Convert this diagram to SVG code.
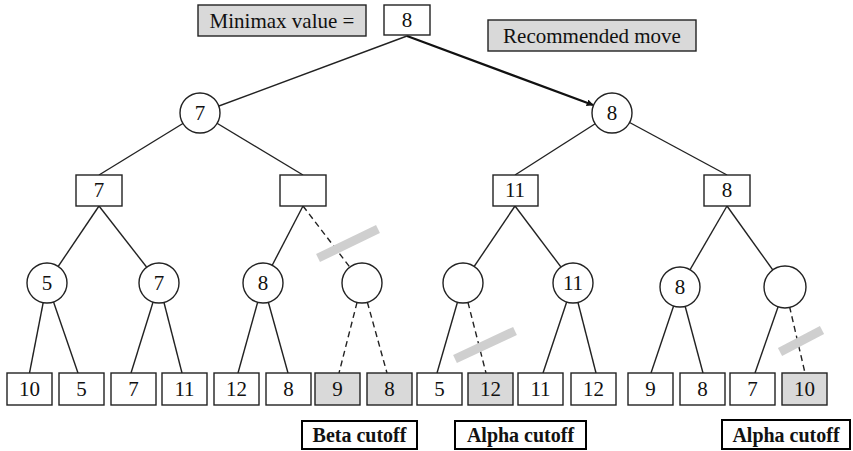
<svg xmlns="http://www.w3.org/2000/svg" width="853" height="451" viewBox="0 0 853 451">
<style>
.e{stroke:#222;stroke-width:1.4;fill:none}
.d{stroke:#222;stroke-width:1.4;fill:none;stroke-dasharray:6 4}
.bar{stroke:#cfcfcf;stroke-width:9}
.n{fill:#fff;stroke:#222;stroke-width:1.4}
.g{fill:#d9d9d9;stroke:#222;stroke-width:1.4}
.lb{fill:#fff;stroke:#000;stroke-width:2}
text{font-family:"Liberation Serif","Times New Roman",serif;font-size:21px;fill:#111;text-anchor:middle;dominant-baseline:central}
.b{font-weight:bold;font-size:20px}
</style>
<defs>
<marker id="arr" viewBox="0 0 10 10" refX="9" refY="5" markerWidth="7" markerHeight="7" orient="auto" markerUnits="userSpaceOnUse">
<path d="M0,0 L10,5 L0,10 z" fill="#111"/>
</marker>
</defs>
<g id="connectors">
<line class="e" x1="407" y1="36" x2="200" y2="113"/>
<line stroke="#111" stroke-width="2.2" x1="407" y1="36" x2="593" y2="105" marker-end="url(#arr)"/>
<line class="e" x1="200" y1="113" x2="99" y2="175"/>
<line class="e" x1="200" y1="113" x2="303" y2="175"/>
<line class="e" x1="612" y1="113" x2="515" y2="175"/>
<line class="e" x1="612" y1="113" x2="727" y2="175"/>
<line class="e" x1="99" y1="206" x2="47" y2="283"/>
<line class="e" x1="99" y1="206" x2="159" y2="283"/>
<line class="e" x1="303" y1="206" x2="263" y2="283"/>
<line class="d" x1="303" y1="206" x2="362" y2="283"/>
<line class="e" x1="515" y1="206" x2="463" y2="283"/>
<line class="e" x1="515" y1="206" x2="573" y2="283"/>
<line class="e" x1="727" y1="206" x2="680" y2="287"/>
<line class="e" x1="727" y1="206" x2="785" y2="287"/>
<line class="e" x1="47" y1="283" x2="29.5" y2="373"/>
<line class="e" x1="47" y1="283" x2="78" y2="373"/>
<line class="e" x1="159" y1="283" x2="131" y2="373"/>
<line class="e" x1="159" y1="283" x2="182" y2="373"/>
<line class="e" x1="263" y1="283" x2="238" y2="373"/>
<line class="e" x1="263" y1="283" x2="288" y2="373"/>
<line class="d" x1="362" y1="283" x2="339" y2="373"/>
<line class="d" x1="362" y1="283" x2="387" y2="373"/>
<line class="e" x1="463" y1="283" x2="437" y2="373"/>
<line class="d" x1="463" y1="283" x2="486" y2="373"/>
<line class="e" x1="573" y1="283" x2="543" y2="373"/>
<line class="e" x1="573" y1="283" x2="596" y2="373"/>
<line class="e" x1="680" y1="287" x2="651" y2="373"/>
<line class="e" x1="680" y1="287" x2="703" y2="373"/>
<line class="e" x1="785" y1="287" x2="755" y2="373"/>
<line class="d" x1="785" y1="287" x2="805" y2="373"/>
</g>
<g id="cutoff-marks">
<line class="bar" x1="318" y1="258" x2="378" y2="229"/>
<line class="bar" x1="455" y1="359" x2="515" y2="331"/>
<line class="bar" x1="780" y1="352" x2="822" y2="330"/>
</g>
<g id="minimax-label"><rect class="g" x="198" y="5" width="168" height="31" stroke-width="2"/><text x="282" y="21">Minimax value =</text></g>
<g id="root"><rect class="n" x="384" y="5" width="46" height="30"/><text x="407" y="20">8</text></g>
<g id="recommended-label"><rect class="g" x="488" y="20" width="208" height="31"/><text x="592" y="36">Recommended move</text></g>
<g id="n1"><circle class="n" cx="200" cy="113" r="20"/><text x="200" y="113">7</text></g>
<g id="n2"><circle class="n" cx="612" cy="113" r="20"/><text x="612" y="113">8</text></g>
<g id="n3"><rect class="n" x="76" y="175" width="46" height="31"/><text x="99" y="190">7</text></g>
<g id="n4"><rect class="n" x="280" y="175" width="46" height="31"/></g>
<g id="n5"><rect class="n" x="493" y="175" width="45" height="31"/><text x="515" y="190">11</text></g>
<g id="n6"><rect class="n" x="704" y="175" width="46" height="31"/><text x="727" y="190">8</text></g>
<g id="n7"><circle class="n" cx="47" cy="283" r="20"/><text x="47" y="283">5</text></g>
<g id="n8"><circle class="n" cx="159" cy="283" r="20"/><text x="159" y="283">7</text></g>
<g id="n9"><circle class="n" cx="263" cy="283" r="20"/><text x="263" y="283">8</text></g>
<g id="n10"><circle class="n" cx="362" cy="283" r="20"/></g>
<g id="n11"><circle class="n" cx="463" cy="283" r="20"/></g>
<g id="n12"><circle class="n" cx="573" cy="283" r="20"/><text x="573" y="283">11</text></g>
<g id="n13"><circle class="n" cx="680" cy="287" r="20"/><text x="680" y="287">8</text></g>
<g id="n14"><circle class="n" cx="785" cy="287" r="21"/></g>
<g id="l1"><rect class="n" x="7" y="373" width="45" height="32"/><text x="29.5" y="389">10</text></g>
<g id="l2"><rect class="n" x="59" y="373" width="45" height="32"/><text x="81.5" y="389">5</text></g>
<g id="l3"><rect class="n" x="111" y="373" width="45" height="32"/><text x="133.5" y="389">7</text></g>
<g id="l4"><rect class="n" x="162" y="373" width="45" height="32"/><text x="184.5" y="389">11</text></g>
<g id="l5"><rect class="n" x="214" y="373" width="45" height="32"/><text x="236.5" y="389">12</text></g>
<g id="l6"><rect class="n" x="266" y="373" width="45" height="32"/><text x="288.5" y="389">8</text></g>
<g id="l7"><rect class="g" x="315" y="373" width="45" height="32"/><text x="337.5" y="389">9</text></g>
<g id="l8"><rect class="g" x="367" y="373" width="45" height="32"/><text x="389.5" y="389">8</text></g>
<g id="l9"><rect class="n" x="417" y="373" width="45" height="32"/><text x="439.5" y="389">5</text></g>
<g id="l10"><rect class="g" x="468" y="373" width="45" height="32"/><text x="490.5" y="389">12</text></g>
<g id="l11"><rect class="n" x="518" y="373" width="45" height="32"/><text x="540.5" y="389">11</text></g>
<g id="l12"><rect class="n" x="571" y="373" width="45" height="32"/><text x="593.5" y="389">12</text></g>
<g id="l13"><rect class="n" x="628" y="373" width="45" height="32"/><text x="650.5" y="389">9</text></g>
<g id="l14"><rect class="n" x="680" y="373" width="45" height="32"/><text x="702.5" y="389">8</text></g>
<g id="l15"><rect class="n" x="730" y="373" width="45" height="32"/><text x="752.5" y="389">7</text></g>
<g id="l16"><rect class="g" x="782" y="373" width="45" height="32"/><text x="804.5" y="389">10</text></g>
<g id="beta-cutoff"><rect class="lb" x="302" y="421" width="115" height="28"/><text class="b" x="359.5" y="435">Beta cutoff</text></g>
<g id="alpha-cutoff-1"><rect class="lb" x="455" y="421" width="131" height="28"/><text class="b" x="520.5" y="435">Alpha cutoff</text></g>
<g id="alpha-cutoff-2"><rect class="lb" x="722" y="420" width="128" height="29"/><text class="b" x="786" y="435">Alpha cutoff</text></g>
</svg>
